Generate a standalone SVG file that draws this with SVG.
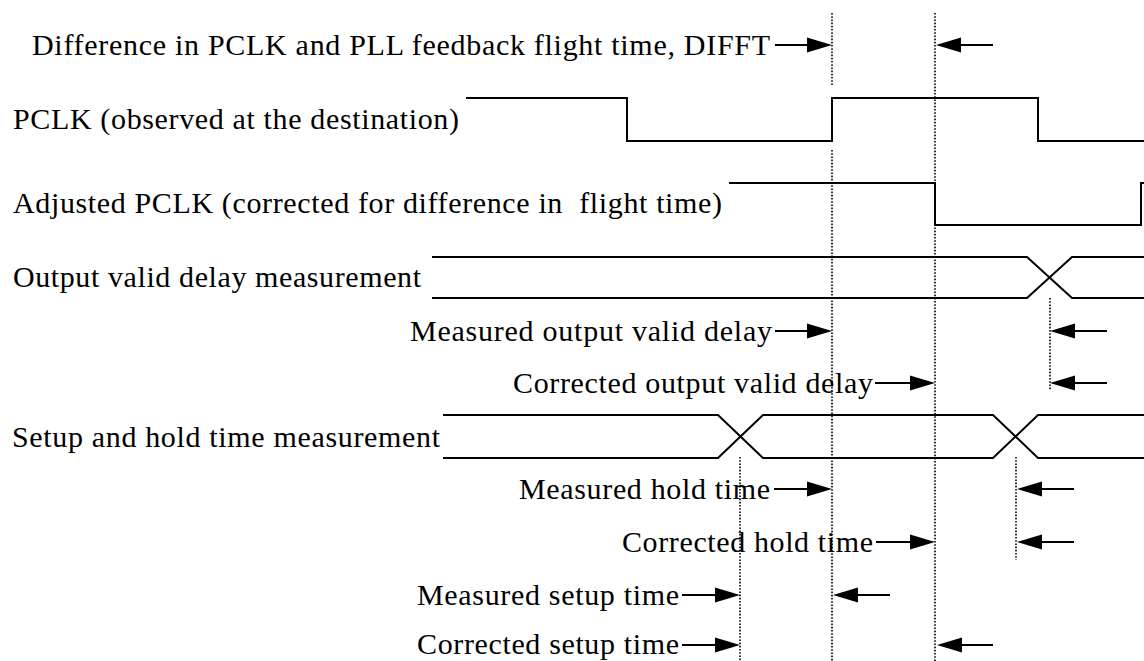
<svg xmlns="http://www.w3.org/2000/svg" width="1144" height="661" viewBox="0 0 1144 661">
<style>
text{font-family:"Liberation Serif","Times New Roman",serif;font-size:30px;fill:#000}
.w{fill:none;stroke:#000;stroke-width:2}
.dot{fill:none;stroke:#000;stroke-width:1.6;stroke-dasharray:1.6 1.6}
.a{stroke:#000;stroke-width:2;fill:none}
.h{fill:#000;stroke:none}
</style>
<rect width="1144" height="661" fill="#fff"/>
<g id="guides">
<path class="dot" d="M832 13V86M832 150V661"/>
<path class="dot" d="M935 13V661"/>
<path class="dot" d="M1050 298V390"/>
<path class="dot" d="M740 457V661"/>
<path class="dot" d="M1016 457V560"/>
</g>
<g id="difft"><text x="32" y="55" textLength="738" lengthAdjust="spacing">Difference in PCLK and PLL feedback flight time, DIFFT</text></g>
<g id="pclk"><text x="13" y="129" textLength="446" lengthAdjust="spacing">PCLK (observed at the destination)</text>
<path class="w" d="M466 98H627V141H832V98H1038V141H1144"/></g>
<g id="adjusted-pclk"><text x="13" y="213" xml:space="preserve" style="white-space:pre" textLength="709" lengthAdjust="spacing">Adjusted PCLK (corrected for difference in  flight time)</text>
<path class="w" d="M729 183H935V225H1141V183H1144"/></g>
<g id="output-valid"><text x="13" y="287" textLength="408" lengthAdjust="spacing">Output valid delay measurement</text>
<path class="w" d="M432 257H1027L1072 298H1144M432 298H1027L1072 257H1144"/></g>
<g id="meas-ovd"><text x="410" y="341" textLength="362" lengthAdjust="spacing">Measured output valid delay</text></g>
<g id="corr-ovd"><text x="513" y="393" textLength="360" lengthAdjust="spacing">Corrected output valid delay</text></g>
<g id="setup-hold"><text x="12" y="447" textLength="428" lengthAdjust="spacing">Setup and hold time measurement</text>
<path class="w" d="M443 415H718L763 458H993L1038 415H1144M443 458H718L763 415H993L1038 458H1144"/></g>
<g id="meas-hold"><text x="519" y="499" textLength="251" lengthAdjust="spacing">Measured hold time</text></g>
<g id="corr-hold"><text x="622" y="552" textLength="251" lengthAdjust="spacing">Corrected hold time</text></g>
<g id="meas-setup"><text x="417" y="605" textLength="262" lengthAdjust="spacing">Measured setup time</text></g>
<g id="corr-setup"><text x="417" y="654" textLength="262" lengthAdjust="spacing">Corrected setup time</text></g>
<g id="connectors">
<path class="a" d="M775 45H810M960 45H993"/>
<path class="h" d="M832 45L807 37.5V52.5Z"/><path class="h" d="M936 45L961 37.5V52.5Z"/>
<path class="a" d="M775 331H810M1073 331H1107"/>
<path class="h" d="M832 331L807 323.5V338.5Z"/><path class="h" d="M1050 331L1075 323.5V338.5Z"/>
<path class="a" d="M875 383H913M1073 383H1107"/>
<path class="h" d="M935 383L910 375.5V390.5Z"/><path class="h" d="M1050 383L1075 375.5V390.5Z"/>
<path class="a" d="M774 489H810M1040 489H1074"/>
<path class="h" d="M832 489L807 481.5V496.5Z"/><path class="h" d="M1017 489L1042 481.5V496.5Z"/>
<path class="a" d="M876 542H913M1040 542H1074"/>
<path class="h" d="M935 542L910 534.5V549.5Z"/><path class="h" d="M1017 542L1042 534.5V549.5Z"/>
<path class="a" d="M682 595H718M856 595H890"/>
<path class="h" d="M740 595L715 587.5V602.5Z"/><path class="h" d="M833 595L858 587.5V602.5Z"/>
<path class="a" d="M682 645H718M960 645H993"/>
<path class="h" d="M740 645L715 637.5V652.5Z"/><path class="h" d="M937 645L962 637.5V652.5Z"/>
</g>
</svg>
